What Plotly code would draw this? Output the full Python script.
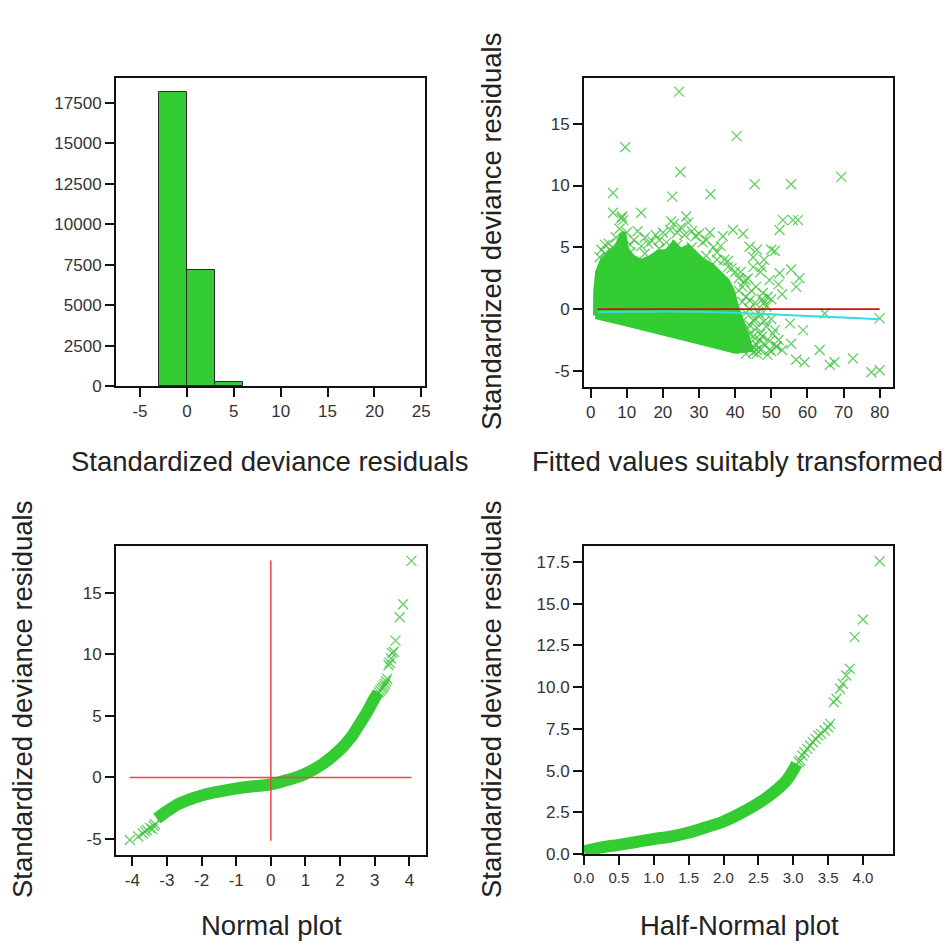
import plotly.graph_objects as go

# ---------------- data ----------------
# Panel 1: histogram of standardized deviance residuals (bin edges width 3)
hist_left_edges = [-3, 0, 3]
hist_counts = [18200, 7200, 270]
hist_bin_width = 3
hist_xticks = [-5, 0, 5, 10, 15, 20, 25]
hist_yticks = [0, 2500, 5000, 7500, 10000, 12500, 15000, 17500]

# Panel 2: residuals vs fitted - dense cloud outline (data coords)
cloud_x = [1.2, 1.3, 1.8, 3.0, 5.0, 7.0, 8.5, 9.3, 10.0, 11.5, 14.0, 16.5, 18.5, 21.0,
           23.0, 25.0, 27.0, 29.0, 31.0, 33.5, 36.0, 38.0, 39.5, 40.5, 42.0, 43.5,
           44.5, 40.0, 30.0, 20.0, 10.0, 1.3]
cloud_y = [-0.5, 1.5, 3.0, 3.9, 4.5, 5.0, 6.0, 6.2, 4.9, 4.3, 3.9, 4.2, 4.6, 4.7,
           5.4, 4.8, 5.1, 4.5, 4.0, 3.6, 2.9, 2.3, 1.4, 0.2, -1.0, -2.2,
           -3.3, -3.45, -2.7, -1.95, -1.25, -0.65]
# individual crosses visible in panel 2
fit_pts_x = [24.5, 40.4, 9.6, 24.8, 69.4, 45.4, 55.5, 6.2, 33.2, 22.6, 6.2, 14.0, 8.5,
             26.5, 53.2, 56.0, 57.4, 52.3, 39.4, 42.2, 36.6, 22.3, 44.0, 50.0, 55.5,
             57.8, 56.9, 47.4, 49.5, 52.3, 64.8, 80.0, 55.2, 58.8, 63.4, 55.5, 56.9,
             59.2, 66.2, 67.5, 72.6, 77.7, 80.0, 49.5, 51.4, 46.8, 48.6, 45.0, 44.0,
             47.7, 45.8, 48.6, 50.5, 43.0, 45.0,
             2.5, 3, 4, 5, 6, 7, 8, 9, 8.7, 10, 11, 12, 13, 14, 15, 16, 17, 18, 19,
             20, 21, 22, 23, 24, 25, 26, 27, 28, 29, 30, 31, 32, 33, 34, 35, 36, 37,
             38, 39, 40, 41, 42, 43, 44, 42, 44, 43, 45, 46, 47, 48, 49, 50, 46, 47,
             48, 49, 50, 51, 52, 53, 45, 46, 47, 48, 51, 52, 53, 50,
             41, 42, 43, 44, 45, 46, 47, 48, 41.5, 42.5, 43.5, 44.5, 45.5, 46.5,
             47.5, 41, 42, 43, 44, 45, 46, 41.5, 43.5, 45.5, 47.5, 49.5, 51.5,
             4, 6, 9, 11, 15, 19, 24, 28, 32, 35, 38]
fit_pts_y = [17.6, 14.0, 13.1, 11.1, 10.7, 10.1, 10.1, 9.4, 9.3, 9.1, 7.8, 7.8, 7.35,
             7.5, 7.2, 7.2, 7.2, 6.4, 6.4, 6.1, 5.9, 7.1, 5.05, 4.8, 3.2,
             2.5, 1.8, 3.4, 2.35, 2.9, -0.35, -0.75, -1.15, -1.7, -3.3, -2.8, -4.1,
             -4.3, -4.5, -4.3, -4.0, -5.1, -4.95, -3.3, -3.05, -2.5, -1.4, -0.9, 0.7,
             1.3, 1.8, 0.2, -2.0, 2.35, 3.4,
             4.2, 4.8, 5.2, 5.3, 5.0, 5.8, 6.5, 7.2, 7.5, 6.2, 5.2, 5.6, 6.3, 5.1,
             5.8, 5.3, 5.5, 6.0, 5.6, 6.2, 5.4, 6.4, 6.9, 6.2, 6.6, 6.0, 7.0, 6.3,
             5.9, 6.1, 5.4, 5.6, 6.2, 5.0, 4.6, 5.1, 4.0, 3.9, 3.3, 3.0, 2.5, 1.8,
             1.0, 0.0, -1.0, -2.0, -3.0, -3.5, -3.6, -3.3, -2.8, -3.7, -3.4, -1.5,
             -0.5, 0.5, 1.0, -0.8, -1.7, -2.5, -3.3, 4.2, 4.8, 3.0, 4.0, 4.7, 2.0,
             1.2, 0.8,
             1.5, 0.6, -0.3, -1.3, -2.2, -2.9, -2.0, -1.0, 3.0, 2.2, 2.5, 1.5, 0.5,
             -0.2, 0.8, -2.5, -3.2, -3.6, -2.8, -3.0, -3.3, -1.8, -1.6, -0.8, -2.2,
             -2.6, -3.0,
             4.5, 4.6, 5.0, 4.6, 4.5, 4.9, 5.2, 5.0, 4.3, 4.0, 3.4]
# smoother (cyan) and reference line (red)
smooth_x = [2, 10, 20, 30, 40, 50, 60, 70, 80]
smooth_y = [-0.25, -0.22, -0.2, -0.22, -0.3, -0.42, -0.55, -0.68, -0.82]
ref_x = [2, 80]
ref_y = [0, 0]
fit_xticks = [0, 10, 20, 30, 40, 50, 60, 70, 80]
res_yticks = [-5, 0, 5, 10, 15]

# Panel 3: normal QQ plot - dense band (centre line) and sparse tail points
qq_band_x = [-3.29, -3.0, -2.72, -2.4, -1.95, -1.5, -0.98, -0.5, 0.0, 0.5, 1.0,
             1.5, 2.0, 2.3, 2.58, 2.8, 2.97, 3.1]
qq_band_y = [-3.35, -2.75, -2.24, -1.85, -1.43, -1.15, -0.89, -0.72, -0.57, -0.2,
             0.3, 1.1, 2.25, 3.2, 4.4, 5.4, 6.3, 6.9]
qq_pts_x = [-4.07, -3.83, -3.63, -3.49, -3.34, -3.58, -3.7, -3.42, -3.38,
            3.12, 3.16, 3.2, 3.24, 3.27, 3.3, 3.33, 3.36, 3.4, 3.43, 3.47, 3.5,
            3.55, 3.6, 3.72, 3.82, 4.06]
qq_pts_y = [-5.08, -4.8, -4.4, -4.1, -3.8, -4.27, -4.55, -4.2, -3.95,
            6.9, 7.05, 7.2, 7.3, 7.45, 7.6, 7.8, 8.0, 9.1, 9.3, 9.65, 10.1,
            10.2, 11.1, 13.0, 14.05, 17.57]
qq_hline_x = [-4.07, 4.06]
qq_hline_y = [0, 0]
qq_vline_x = [0, 0]
qq_vline_y = [-5.15, 17.6]
qq_xticks = [-4, -3, -2, -1, 0, 1, 2, 3, 4]

# Panel 4: half-normal plot
hn_band_x = [0.0, 0.25, 0.5, 0.75, 1.0, 1.25, 1.52, 1.75, 2.0, 2.25, 2.52, 2.75,
             2.91, 3.05]
hn_band_y = [0.15, 0.4, 0.55, 0.72, 0.9, 1.05, 1.3, 1.6, 1.95, 2.45, 3.1, 3.8,
             4.45, 5.4]
hn_pts_x = [3.08, 3.1, 3.13, 3.16, 3.2, 3.24, 3.28, 3.32, 3.36, 3.40, 3.45, 3.5,
            3.53, 3.58, 3.62, 3.67, 3.71, 3.76, 3.81, 3.88, 4.0, 4.24]
hn_pts_y = [5.5, 5.6, 5.9, 6.1, 6.3, 6.5, 6.7, 6.9, 7.1, 7.2, 7.4, 7.6,
            7.8, 9.1, 9.3, 9.9, 10.2, 10.7, 11.1, 13.0, 14.05, 17.55]
hn_xticks = [0, 0.5, 1, 1.5, 2, 2.5, 3, 3.5, 4]
hn_yticks = [0, 2.5, 5, 7.5, 10, 12.5, 15, 17.5]

# ---------------- styling ----------------
W, H = 952, 947
GREEN = "#33cc33"
MARK = "rgba(60,195,60,0.8)"
FONT = "Liberation Sans, Arial, sans-serif"


def dx(a, b):
    return [a / W, b / W]


def dy(top, bottom):
    return [1 - bottom / H, 1 - top / H]


def lab(v, fmt="{:g}"):
    return [fmt.format(t).replace("\u2212", "-") for t in v]


fig = go.Figure()

# panel 1
fig.add_trace(go.Bar(x=[e + hist_bin_width / 2 for e in hist_left_edges], y=hist_counts,
                     width=hist_bin_width,
                     marker=dict(color=GREEN, line=dict(color="#2a2a2a", width=1)),
                     xaxis="x", yaxis="y", showlegend=False))

# panel 2
fig.add_trace(go.Scatter(x=cloud_x, y=cloud_y, mode="lines", fill="toself",
                         fillcolor=GREEN, line=dict(color=GREEN, width=4),
                         xaxis="x2", yaxis="y2", showlegend=False))
fig.add_trace(go.Scatter(x=fit_pts_x, y=fit_pts_y, mode="markers",
                         marker=dict(symbol="x-thin", size=10,
                                     line=dict(color=MARK, width=1.3)),
                         xaxis="x2", yaxis="y2", showlegend=False))
fig.add_trace(go.Scatter(x=ref_x, y=ref_y, mode="lines",
                         line=dict(color="#cc1111", width=1.8),
                         xaxis="x2", yaxis="y2", showlegend=False))
fig.add_trace(go.Scatter(x=smooth_x, y=smooth_y, mode="lines", line_shape="spline",
                         line=dict(color="#33dddd", width=2),
                         xaxis="x2", yaxis="y2", showlegend=False))

# panel 3
fig.add_trace(go.Scatter(x=qq_band_x, y=qq_band_y, mode="lines", line_shape="spline",
                         line=dict(color=GREEN, width=12),
                         xaxis="x3", yaxis="y3", showlegend=False))
fig.add_trace(go.Scatter(x=qq_pts_x, y=qq_pts_y, mode="markers",
                         marker=dict(symbol="x-thin", size=10,
                                     line=dict(color=MARK, width=1.3)),
                         xaxis="x3", yaxis="y3", showlegend=False))
fig.add_trace(go.Scatter(x=qq_hline_x, y=qq_hline_y, mode="lines",
                         line=dict(color="#ee4444", width=1.5),
                         xaxis="x3", yaxis="y3", showlegend=False))
fig.add_trace(go.Scatter(x=qq_vline_x, y=qq_vline_y, mode="lines",
                         line=dict(color="#ee4444", width=1.5),
                         xaxis="x3", yaxis="y3", showlegend=False))

# panel 4
fig.add_trace(go.Scatter(x=hn_band_x, y=hn_band_y, mode="lines", line_shape="spline",
                         line=dict(color=GREEN, width=12),
                         xaxis="x4", yaxis="y4", showlegend=False))
fig.add_trace(go.Scatter(x=hn_pts_x, y=hn_pts_y, mode="markers",
                         marker=dict(symbol="x-thin", size=10,
                                     line=dict(color=MARK, width=1.3)),
                         xaxis="x4", yaxis="y4", showlegend=False))


def ax(domain, rng, tickvals, ticktext, anchor, size=17):
    return dict(domain=domain, range=rng, tickvals=tickvals, ticktext=ticktext,
                anchor=anchor, automargin=False,
                showline=True, mirror=True, linecolor="#111", linewidth=2,
                ticks="outside", ticklen=9, tickwidth=2, tickcolor="#111",
                showgrid=False, zeroline=False,
                tickfont=dict(family=FONT, size=size, color="#333"))


fig.update_layout(
    width=W, height=H, margin=dict(l=0, r=0, t=0, b=0, autoexpand=False),
    paper_bgcolor="white", plot_bgcolor="white", showlegend=False, bargap=0,
    xaxis=ax(dx(116, 425), [-7.56, 25.4], hist_xticks, lab(hist_xticks), "y"),
    yaxis=ax(dy(78, 386), [0, 19046], hist_yticks, lab(hist_yticks, "{:d}"), "x"),
    xaxis2=ax(dx(584, 893), [-1.83, 83.7], fit_xticks, lab(fit_xticks), "y2"),
    yaxis2=ax(dy(78, 387), [-6.3, 18.7], res_yticks, lab(res_yticks), "x2"),
    xaxis3=ax(dx(116, 426), [-4.47, 4.48], qq_xticks, lab(qq_xticks), "y3"),
    yaxis3=ax(dy(546, 855), [-6.3, 18.78], res_yticks, lab(res_yticks), "x3"),
    xaxis4=ax(dx(584, 893), [0, 4.43], hn_xticks, lab(hn_xticks, "{:.1f}"), "y4", 15),
    yaxis4=ax(dy(546, 854), [0, 18.46], hn_yticks, lab(hn_yticks, "{:.1f}"), "x4"),
)

title_font = dict(family=FONT, size=27.5, color="#222")
titles = [
    ("Standardized deviance residuals", 269, 462, 0),
    ("Fitted values suitably transformed", 737, 461, 0),
    ("Standardized deviance residuals", 491, 232, -90),
    ("Normal plot", 271, 925, 0),
    ("Standardized deviance residuals", 22, 700, -90),
    ("Half-Normal plot", 739, 925, 0),
    ("Standardized deviance residuals", 491, 700, -90),
]
for text, px, py, ang in titles:
    fig.add_annotation(text=text, x=px / W, y=1 - py / H, xref="paper", yref="paper",
                       xanchor="center", yanchor="middle", showarrow=False,
                       textangle=ang, font=title_font)

fig.write_html("out.html")
